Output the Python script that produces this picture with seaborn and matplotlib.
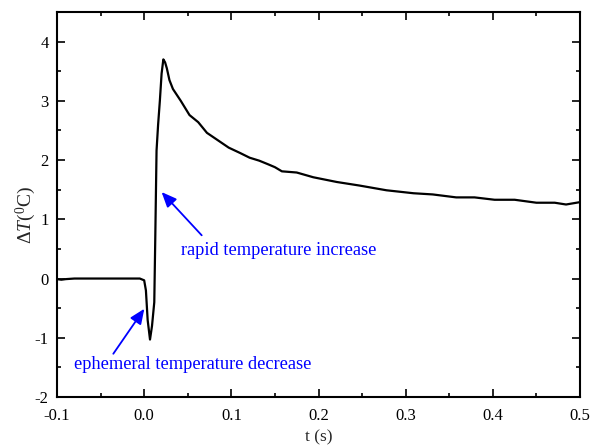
import matplotlib
matplotlib.use("Agg")
import matplotlib.pyplot as plt
from matplotlib.ticker import MultipleLocator
import seaborn as sns
import pandas as pd

t = [-0.1, -0.095, -0.09, -0.08, -0.06, -0.04, -0.02, -0.005, 0.0, 0.002, 0.004,
     0.0067, 0.009, 0.0116, 0.0127, 0.0142, 0.016, 0.018, 0.020, 0.022, 0.024,
     0.026, 0.029, 0.033, 0.042, 0.052, 0.062, 0.072, 0.084, 0.097, 0.11, 0.121,
     0.132, 0.142, 0.15, 0.158, 0.175, 0.194, 0.221, 0.247, 0.278, 0.309, 0.331,
     0.358, 0.379, 0.402, 0.425, 0.45, 0.471, 0.484, 0.5]
dT = [-0.01, -0.02, -0.01, 0.0, 0.0, 0.0, 0.0, 0.0, -0.03, -0.2, -0.7,
      -1.03, -0.8, -0.4, 0.64, 2.16, 2.6, 3.0, 3.46, 3.7, 3.65,
      3.55, 3.35, 3.2, 3.0, 2.76, 2.64, 2.46, 2.34, 2.21, 2.12, 2.04,
      1.99, 1.93, 1.88, 1.81, 1.79, 1.71, 1.63, 1.57, 1.49, 1.44, 1.42,
      1.37, 1.37, 1.33, 1.33, 1.28, 1.28, 1.25, 1.29]

ann_texts = ["rapid temperature increase", "ephemeral temperature decrease"]

df = pd.DataFrame({"t": t, "dT": dT})

sns.set_style("ticks")
plt.rcParams["font.family"] = ["Liberation Serif", "DejaVu Serif"]
plt.rcParams["mathtext.fontset"] = "custom"
plt.rcParams["mathtext.it"] = "Liberation Serif:italic"
plt.rcParams["mathtext.rm"] = "Liberation Serif"
plt.rcParams["axes.unicode_minus"] = False

fig = plt.figure(figsize=(5.91, 4.46), dpi=100)
ax = fig.add_axes([57 / 591, 1 - 397 / 446, (580 - 57) / 591, (397 - 12) / 446])

sns.lineplot(data=df, x="t", y="dT", ax=ax, color="black", linewidth=1.6,
             sort=False, estimator=None)

ax.set_xlim(-0.1, 0.5)
ax.set_ylim(-2, 4.5)
ax.xaxis.set_minor_locator(MultipleLocator(0.05))
ax.yaxis.set_minor_locator(MultipleLocator(0.5))
ax.set_xticks([-0.1, 0.0, 0.1, 0.2, 0.3, 0.4, 0.5])
ax.set_xticklabels(["-0.1", "0.0", "0.1", "0.2", "0.3", "0.4", "0.5"])
ax.set_yticks([-2, -1, 0, 1, 2, 3, 4])
ax.set_yticklabels(["-2", "-1", "0", "1", "2", "3", "4"])

ax.tick_params(which="both", direction="in", top=True, right=True,
               labelsize=12, width=1.2, colors="black")
ax.tick_params(axis="x", which="major", pad=8)
ax.tick_params(axis="y", which="major", pad=6)
ax.tick_params(which="major", length=6)
ax.tick_params(which="minor", length=3)
for s in ax.spines.values():
    s.set_linewidth(1.5)
    s.set_color("black")

ax.set_xlabel("t (s)", fontsize=12.5, labelpad=4)
ax.set_ylabel(r"$\Delta \mathit{T}$($^{0}$C)", fontsize=14)
ax.yaxis.set_label_coords(-0.037, 0.473)

ax.text(0.1546, 0.39, ann_texts[0], fontsize=13.2, color="blue",
        ha="center", va="baseline")
ax.text(0.0554, -1.52, ann_texts[1], fontsize=13.2, color="blue",
        ha="center", va="baseline")
arrow_kw = dict(arrowstyle="-|>,head_length=0.7,head_width=0.3", color="blue",
                lw=1.3, shrinkA=0, shrinkB=0, mutation_scale=13)
ax.annotate("", xy=(0.020, 1.46), xytext=(0.066, 0.73), arrowprops=arrow_kw)
ax.annotate("", xy=(0.0002, -0.51), xytext=(-0.0354, -1.27), arrowprops=arrow_kw)

fig.savefig("out.png", dpi=100)
